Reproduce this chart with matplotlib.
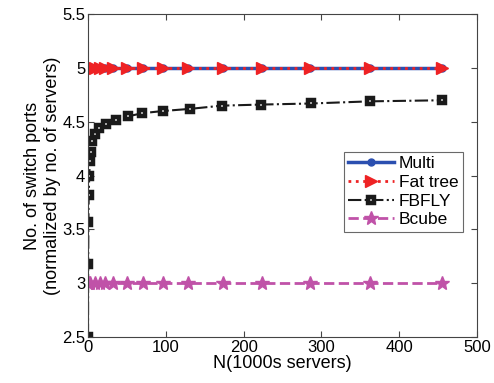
import matplotlib
matplotlib.use("Agg")
import matplotlib.pyplot as plt
from matplotlib.ticker import FormatStrFormatter

plt.rcParams['font.family'] = ['Liberation Sans', 'DejaVu Sans']

# N in thousands of servers
n_fbfly = [0.1, 0.3, 0.6, 1.0, 1.7, 2.6, 3.5, 5, 9, 14, 23, 36, 51, 70, 96, 131, 172, 222, 287, 362, 455]
fbfly = [2.5, 3.18, 3.57, 3.82, 4.0, 4.14, 4.22, 4.32, 4.39, 4.44, 4.48, 4.52, 4.55, 4.58, 4.60, 4.62, 4.65, 4.66, 4.67, 4.69, 4.70]

n_other = [0.1, 1.0, 2.6, 9, 15, 22, 32, 50, 71, 96, 129, 174, 224, 285, 362, 455]
multi = [5] * len(n_other)
fattree = [5] * len(n_other)
bcube = [3] * len(n_other)

fig = plt.figure(figsize=(4.94, 3.83), dpi=100)
ax = fig.add_axes([0.178, 0.12, 0.788, 0.843])

ax.plot(n_other, multi, '-o', color='#2b4fb0', lw=2.5, ms=5, label='Multi')
ax.plot(n_other, fattree, ':>', color='#ee2224', lw=2, ms=8, label='Fat tree')
ax.plot(n_fbfly, fbfly, '-.s', color='#1a1a1a', lw=1.5, ms=5, mfc='white', mec='#1a1a1a', mew=3.2, label='FBFLY')
ax.plot(n_other, bcube, '--*', color='#c052a8', lw=2, ms=10, label='Bcube')

ax.set_xlim(0, 500)
ax.set_ylim(2.5, 5.5)
ax.set_xticks([0, 100, 200, 300, 400, 500])
ax.set_yticks([2.5, 3, 3.5, 4, 4.5, 5, 5.5])
ax.yaxis.set_major_formatter(FormatStrFormatter('%g'))
ax.tick_params(direction='in', top=True, right=True, labelsize=12, length=4, color='#444444', pad=2)
for s in ax.spines.values():
    s.set_color('#444444')

ax.set_xlabel('N(1000s servers)', fontsize=13, labelpad=0)
ax.set_ylabel('No. of switch ports\n(normalized by no. of servers)', fontsize=13, labelpad=1)

leg = ax.legend(loc='upper right', bbox_to_anchor=(0.985, 0.6), fontsize=12.5, fancybox=False,
                edgecolor='#444444', handlelength=2.6, borderpad=0.25, labelspacing=0.2, handletextpad=0.3)
leg.get_frame().set_linewidth(0.8)

fig.savefig('out.png', dpi=100)
